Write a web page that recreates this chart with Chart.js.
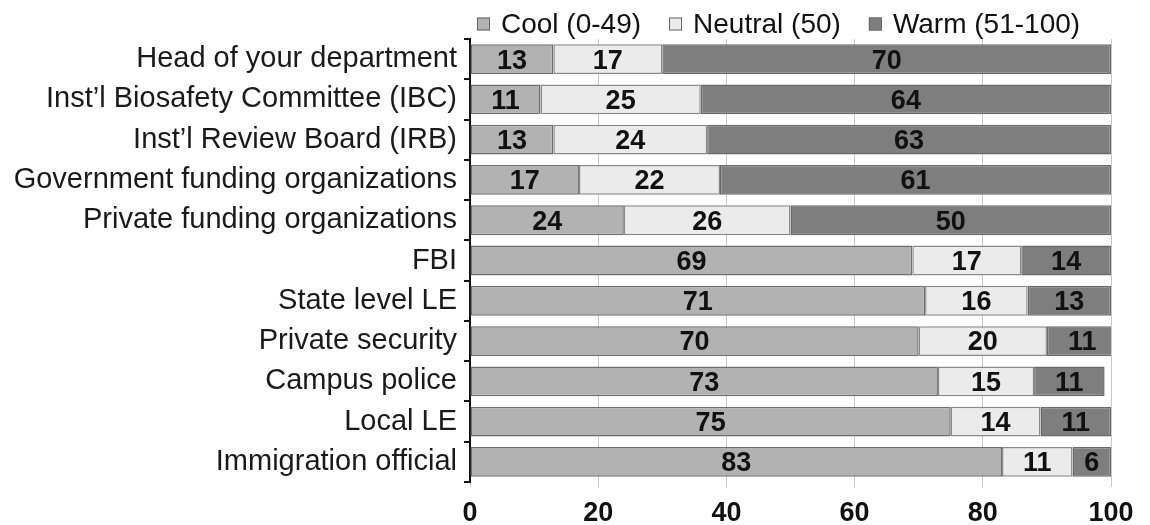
<!DOCTYPE html>
<html>
<head>
<meta charset="utf-8">
<script src="https://cdn.jsdelivr.net/npm/chart.js@4/dist/chart.umd.min.js"></script>
<style>
  html, body { margin: 0; padding: 0; background: #ffffff; }
  #wrap { width: 1150px; height: 525px; position: relative; }
</style>
</head>
<body>
<div id="wrap"><canvas id="c"></canvas></div>
<script>
const categories = [
  "Head of your department",
  "Inst\u2019l Biosafety Committee (IBC)",
  "Inst\u2019l Review Board (IRB)",
  "Government funding organizations",
  "Private funding organizations",
  "FBI",
  "State level LE",
  "Private security",
  "Campus police",
  "Local LE",
  "Immigration official"
];
const seriesNames = ["Cool (0-49)", "Neutral (50)", "Warm (51-100)"];
const coolValues    = [13, 11, 13, 17, 24, 69, 71, 70, 73, 75, 83];
const neutralValues = [17, 25, 24, 22, 26, 17, 16, 20, 15, 14, 11];
const warmValues    = [70, 64, 63, 61, 50, 14, 13, 11, 11, 11, 6];
const xTicks = [0, 20, 40, 60, 80, 100];

const FONT = "'Liberation Sans', Arial, sans-serif";
const fills = ["#b2b2b2", "#ebebeb", "#7e7e7e"];
const borders = ["#6f6f6f", "#8a8a8a", "#6a6a6a"];

const labelPlugin = {
  id: 'segLabels',
  afterDatasetsDraw(chart) {
    const ctx = chart.ctx;
    ctx.save();
    ctx.font = "bold 27px " + FONT;
    ctx.fillStyle = "#111111";
    ctx.textAlign = "center";
    ctx.textBaseline = "middle";
    chart.data.datasets.forEach((ds, di) => {
      const meta = chart.getDatasetMeta(di);
      meta.data.forEach((bar, i) => {
        const v = ds.data[i];
        const cx = (bar.x + bar.base) / 2;
        ctx.fillText(String(v), cx, bar.y + 2);
      });
    });
    ctx.restore();
  }
};

const legendPlugin = {
  id: 'customLegend',
  afterDraw(chart) {
    const ctx = chart.ctx;
    ctx.save();
    ctx.font = "28px " + FONT;
    ctx.textBaseline = "middle";
    ctx.textAlign = "left";
    let x = chart.chartArea.left + 7;
    const y = 24;
    const box = 13;
    chart.data.datasets.forEach((ds, di) => {
      ctx.fillStyle = fills[di];
      ctx.fillRect(x, y - box / 2, box, box);
      ctx.strokeStyle = "#666666";
      ctx.lineWidth = 1;
      ctx.strokeRect(x + 0.5, y - box / 2 + 0.5, box - 1, box - 1);
      x += box + 11;
      ctx.fillStyle = "#111111";
      ctx.fillText(ds.label, x, y + 1);
      x += ctx.measureText(ds.label).width + 28;
    });
    ctx.restore();
  }
};

const valueSets = [coolValues, neutralValues, warmValues];

new Chart(document.getElementById('c'), {
  type: 'bar',
  data: {
    labels: categories,
    datasets: seriesNames.map((name, i) => ({
      label: name,
      data: valueSets[i],
      backgroundColor: fills[i],
      borderColor: borders[i],
      borderWidth: 1.5,
      borderSkipped: false,
      barPercentage: 0.74,
      categoryPercentage: 1.0
    }))
  },
  options: {
    indexAxis: 'y',
    responsive: true,
    maintainAspectRatio: false,
    animation: false,
    layout: { padding: { top: 39, right: 39, bottom: 0, left: 0 } },
    plugins: {
      legend: { display: false },
      tooltip: { enabled: false }
    },
    scales: {
      x: {
        stacked: true,
        min: 0,
        max: 100,
        afterBuildTicks(scale) { scale.ticks = xTicks.map(v => ({ value: v })); },
        afterFit(scale) { scale.height = 43; },
        grid: { color: "#c8c8c8", lineWidth: 1, drawTicks: true, tickLength: 5 },
        border: { display: false },
        ticks: {
          padding: 10,
          color: "#111111",
          font: { family: FONT, size: 27, weight: 'bold' }
        }
      },
      y: {
        stacked: true,
        afterFit(scale) { scale.width = 470; },
        grid: {
          drawOnChartArea: false,
          drawTicks: true,
          tickLength: 6,
          color: "#111111",
          lineWidth: 2
        },
        border: { display: true, color: "#111111", width: 2 },
        ticks: {
          padding: 7,
          color: "#1a1a1a",
          font: { family: FONT, size: 29 }
        }
      }
    }
  },
  plugins: [labelPlugin, legendPlugin]
});
</script>
</body>
</html>
